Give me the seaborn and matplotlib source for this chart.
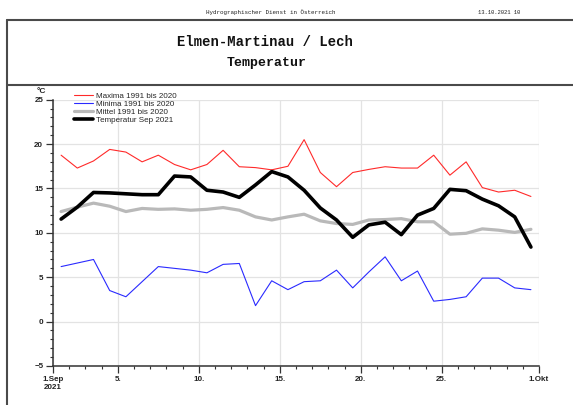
import matplotlib
matplotlib.use("Agg")
import matplotlib.pyplot as plt
from matplotlib.lines import Line2D
from matplotlib.ticker import FixedLocator, MultipleLocator
import pandas as pd
import seaborn as sns

# Daily values for September (day of month 1..30), in °C
days = list(range(1, 31))
maxima = [18.75, 17.3, 18.1, 19.4, 19.1, 18.0, 18.75, 17.7, 17.1, 17.7,
          19.3, 17.45, 17.35, 17.1, 17.5, 20.5, 16.8, 15.2, 16.8, 17.15,
          17.45, 17.3, 17.3, 18.75, 16.5, 18.0, 15.1, 14.6, 14.8, 14.1]
minima = [6.2, 6.6, 7.0, 3.5, 2.8, 4.5, 6.2, 6.0, 5.8, 5.5,
          6.45, 6.55, 1.8, 4.6, 3.6, 4.5, 4.6, 5.8, 3.8, 5.6,
          7.3, 4.6, 5.7, 2.3, 2.5, 2.8, 4.9, 4.9, 3.8, 3.6]
mittel = [12.4, 12.9, 13.35, 13.0, 12.4, 12.75, 12.65, 12.7, 12.55, 12.65,
          12.85, 12.55, 11.8, 11.45, 11.8, 12.1, 11.35, 11.05, 10.95, 11.45,
          11.5, 11.6, 11.25, 11.25, 9.85, 9.95, 10.45, 10.3, 10.05, 10.4]
temp_2021 = [11.55, 12.9, 14.55, 14.5, 14.4, 14.3, 14.3, 16.4, 16.3, 14.8,
             14.6, 14.0, 15.4, 16.9, 16.3, 14.8, 12.8, 11.45, 9.5, 10.9,
             11.2, 9.8, 12.0, 12.75, 14.9, 14.75, 13.8, 13.05, 11.8, 8.4]

series_labels = ["Maxima 1991 bis 2020", "Minima 1991 bis 2020",
                 "Mittel 1991 bis 2020", "Temperatur Sep 2021"]
tick_days = [1, 5, 10, 15, 20, 25, 31]
tick_labels = ["1.Sep\n2021", "5.", "10.", "15.", "20.", "25.", "1.Okt"]
y_ticks = [-5, 0, 5, 10, 15, 20, 25]

# long table: each daily value sits at the middle of its day
frames = []
for label, values in zip(series_labels, [maxima, minima, mittel, temp_2021]):
    frames.append(pd.DataFrame({"pos": [d - 0.5 for d in days],
                                "value": values, "series": label}))
df = pd.concat(frames, ignore_index=True)

sns.set_style("white")
plt.rcParams["font.family"] = ["Liberation Sans", "DejaVu Sans"]

fig = plt.figure(figsize=(5.73, 4.05), dpi=100)
ax = fig.add_axes([0.0925, 0.0963, 0.8482, 0.6575])

styles = {
    "Maxima 1991 bis 2020": dict(color="#ff2a2a", linewidth=0.8),
    "Minima 1991 bis 2020": dict(color="#2a2aff", linewidth=0.8),
    "Mittel 1991 bis 2020": dict(color="#b9b9b9", linewidth=2.3),
    "Temperatur Sep 2021": dict(color="#000000", linewidth=2.6),
}
for label in series_labels:
    sns.lineplot(data=df[df["series"] == label], x="pos", y="value", ax=ax,
                 label=label, zorder=3, **styles[label])

ax.set_xlim(0, 30)
ax.set_ylim(-5, 25)
ax.set_xlabel("")
ax.set_ylabel("")

ax.xaxis.set_major_locator(FixedLocator([d - 1 for d in tick_days]))
ax.set_xticklabels(tick_labels)
ax.xaxis.set_minor_locator(MultipleLocator(1))
ax.yaxis.set_major_locator(FixedLocator(y_ticks))
ax.yaxis.set_minor_locator(MultipleLocator(1))

ax.tick_params(axis="both", which="major", length=5, width=0.9, color="#333333",
               labelsize=5.8, pad=2, direction="out")
ax.tick_params(axis="both", which="minor", length=2.5, width=0.8, color="#333333",
               direction="out")
ax.tick_params(axis="x", which="both", bottom=True)
ax.tick_params(axis="y", which="both", left=True)
for lab in ax.get_xticklabels() + ax.get_yticklabels():
    lab.set_fontweight("bold")
    lab.set_color("#222222")

ax.grid(True, which="major", color="#e3e3e3", linewidth=0.9, zorder=0)
ax.set_axisbelow(True)
for side in ["top", "right"]:
    ax.spines[side].set_visible(False)
for side in ["left", "bottom"]:
    ax.spines[side].set_color("#333333")
    ax.spines[side].set_linewidth(1.1)

ax.legend(loc="upper left", bbox_to_anchor=(0.129, 0.772),
          bbox_transform=fig.transFigure, frameon=False, fontsize=5.8,
          handlelength=2.4, handletextpad=0.3, labelspacing=0.05,
          borderpad=0, borderaxespad=0)

fig.text(0.073, 0.775, "°C", fontsize=6, ha="center", va="center",
         fontweight="bold", color="#222222")

# page frame and header
frame_kw = dict(color="#4a4a4a", linewidth=1.5, transform=fig.transFigure)
fig.add_artist(Line2D([0.0122, 1.0], [0.9506, 0.9506], **frame_kw))
fig.add_artist(Line2D([0.0122, 1.0], [0.790, 0.790], **frame_kw))
fig.add_artist(Line2D([0.0122, 0.0122], [0.0, 0.9506], **frame_kw))

mono = ["Liberation Mono", "DejaVu Sans Mono"]
fig.text(0.473, 0.970, "Hydrographischer Dienst in Österreich", family=mono,
         fontsize=4.2, ha="center", va="center", color="#222222")
fig.text(0.834, 0.970, "13.10.2021 10", family=mono, fontsize=4.0,
         ha="left", va="center", color="#222222")
fig.text(0.462, 0.896, "Elmen-Martinau / Lech", family=mono, fontsize=10,
         fontweight="bold", ha="center", va="center", color="#111111")
fig.text(0.466, 0.844, "Temperatur", family=mono, fontsize=9.5,
         fontweight="bold", ha="center", va="center", color="#111111")

fig.savefig("out.png", dpi=100, facecolor="white")
